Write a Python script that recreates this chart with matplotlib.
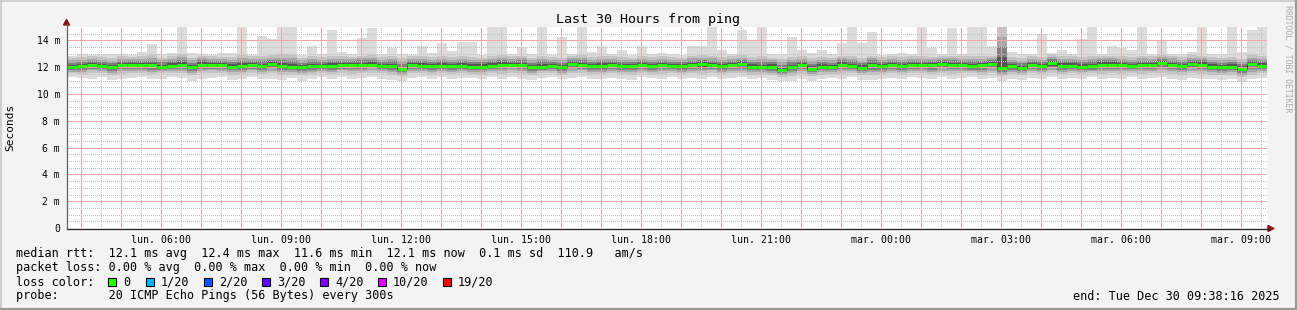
import numpy as np
import matplotlib
matplotlib.use("Agg")
import matplotlib.pyplot as plt
from matplotlib.patches import Polygon, Rectangle
from matplotlib.lines import Line2D

# ---------------- data ----------------
end_hour = 33 + 38 / 60 + 16 / 3600      # Tue 09:38:16 counted from Mon 00:00
span_hours = 30
step_hours = 0.25

median = [
    12.00, 12.10, 12.18, 12.12, 12.00, 12.17, 12.13, 12.13, 12.13, 12.03, 12.12, 12.20, 12.00, 12.20, 12.15, 12.13, 12.05, 12.12, 12.18, 12.08,
    12.25, 12.10, 12.05, 12.00, 12.08, 12.10, 12.12, 12.15, 12.15, 12.18, 12.20, 12.12, 12.08, 11.85, 12.18, 12.12, 12.12, 12.12, 12.12, 12.12,
    12.05, 12.05, 12.10, 12.18, 12.20, 12.18, 12.00, 12.05, 12.12, 12.00, 12.25, 12.15, 12.08, 12.12, 12.18, 12.12, 12.12, 12.15, 12.08, 12.18,
    12.12, 12.08, 12.15, 12.22, 12.15, 12.10, 12.15, 12.22, 12.05, 12.00, 12.05, 11.80, 12.00, 12.15, 11.90, 12.05, 12.02, 12.20, 12.10, 11.95,
    12.18, 12.10, 12.20, 12.10, 12.13, 12.13, 12.13, 12.25, 12.18, 12.18, 12.08, 12.13, 12.25, 11.95, 12.08, 11.95, 12.15, 12.08, 12.28, 12.12,
    12.12, 12.05, 12.08, 12.20, 12.20, 12.15, 12.10, 12.15, 12.20, 12.33, 12.15, 12.08, 12.25, 12.20, 12.05, 12.00, 12.05, 11.88, 12.25, 12.12,
]
ping_max = [
    12.85, 12.95, 12.90, 13.00, 12.95, 12.95, 12.90, 13.10, 13.75, 13.00, 13.05, 15.20, 13.05, 12.95, 12.90, 13.05, 13.05, 15.20, 12.90, 14.30,
    14.10, 15.20, 15.20, 12.90, 13.60, 12.95, 14.75, 13.10, 12.95, 14.20, 14.90, 13.00, 13.40, 12.95, 12.90, 13.60, 13.05, 13.80, 13.20, 13.90,
    13.90, 12.90, 15.20, 15.20, 13.00, 13.50, 13.00, 15.20, 12.90, 14.25, 13.00, 15.20, 13.10, 13.60, 12.95, 13.25, 12.90, 13.60, 13.00, 13.05,
    12.95, 12.90, 13.60, 13.60, 15.20, 13.25, 12.95, 14.75, 14.00, 15.20, 12.95, 13.00, 14.25, 13.25, 13.05, 13.25, 12.95, 13.80, 15.20, 13.80,
    14.60, 12.90, 13.00, 13.05, 12.95, 15.20, 13.40, 12.95, 14.90, 13.00, 15.20, 15.20, 13.60, 15.20, 13.10, 13.00, 12.95, 14.50, 13.05, 13.25,
    12.95, 14.10, 15.20, 12.95, 13.60, 13.40, 13.25, 15.20, 12.95, 14.00, 13.00, 13.00, 13.10, 15.20, 12.95, 13.00, 15.20, 13.10, 14.75, 15.20,
]
ping_min = [
    11.25, 11.20, 11.15, 11.30, 11.05, 11.10, 11.20, 11.30, 11.10, 11.15, 11.25, 11.20, 11.00, 11.15, 11.20, 11.25, 11.05, 11.15, 11.25, 11.10,
    11.15, 11.05, 11.20, 10.95, 11.10, 11.25, 11.15, 11.30, 11.10, 11.20, 11.25, 11.15, 11.05, 10.95, 11.20, 11.30, 11.15, 11.25, 11.10, 11.20,
    11.20, 11.10, 11.25, 11.15, 11.30, 11.10, 11.05, 11.20, 11.25, 11.10, 11.20, 11.30, 11.15, 11.10, 11.20, 11.15, 11.05, 11.25, 11.20, 11.10,
    11.25, 11.15, 11.20, 11.10, 11.30, 11.15, 11.20, 11.25, 11.10, 11.20, 11.05, 10.95, 11.00, 11.15, 11.00, 11.10, 11.20, 11.15, 11.25, 11.05,
    11.05, 11.15, 11.20, 11.10, 11.25, 11.20, 11.10, 11.25, 11.15, 11.20, 11.25, 11.10, 11.20, 11.00, 11.15, 11.05, 11.20, 11.15, 11.25, 11.10,
    11.20, 11.15, 11.25, 11.10, 11.20, 11.15, 11.25, 11.10, 11.20, 11.30, 11.15, 11.05, 11.20, 11.15, 11.10, 11.05, 11.10, 10.90, 11.10, 11.20,
]
ping_upper = [
    12.70, 12.75, 12.80, 12.75, 12.65, 12.80, 12.75, 12.85, 12.90, 12.70, 12.80, 12.95, 12.70, 12.85, 12.80, 12.75, 12.75, 12.90, 12.80, 12.85,
    12.90, 12.95, 12.90, 12.70, 12.80, 12.75, 12.85, 12.80, 12.75, 12.85, 12.90, 12.75, 12.80, 12.65, 12.80, 12.85, 12.75, 12.85, 12.75, 12.80,
    12.75, 12.70, 12.85, 12.90, 12.80, 12.85, 12.70, 12.85, 12.75, 12.70, 12.85, 12.90, 12.75, 12.80, 12.80, 12.75, 12.70, 12.80, 12.75, 12.80,
    12.75, 12.70, 12.85, 12.90, 12.85, 12.75, 12.80, 12.90, 12.75, 12.80, 12.70, 12.60, 12.75, 12.80, 12.65, 12.75, 12.70, 12.85, 12.80, 12.70,
    12.85, 12.75, 12.80, 12.75, 12.80, 12.85, 12.75, 12.85, 12.85, 12.80, 12.85, 12.85, 12.85, 15.20, 12.75, 12.65, 12.80, 12.75, 12.90, 12.80,
    12.80, 12.75, 12.80, 12.85, 12.85, 12.80, 12.75, 12.85, 12.80, 12.90, 12.85, 12.75, 12.90, 12.85, 12.75, 12.70, 12.75, 12.60, 12.90, 12.80,
]
ping_lower = [
    11.55, 11.50, 11.60, 11.55, 11.45, 11.50, 11.55, 11.60, 11.50, 11.55, 11.60, 11.55, 11.40, 11.55, 11.60, 11.55, 11.45, 11.50, 11.60, 11.50,
    11.55, 11.45, 11.50, 11.40, 11.50, 11.55, 11.50, 11.60, 11.50, 11.55, 11.60, 11.55, 11.45, 11.35, 11.55, 11.60, 11.50, 11.55, 11.50, 11.55,
    11.50, 11.45, 11.55, 11.50, 11.60, 11.50, 11.45, 11.55, 11.55, 11.45, 11.55, 11.60, 11.50, 11.50, 11.55, 11.50, 11.45, 11.55, 11.50, 11.50,
    11.55, 11.50, 11.55, 11.50, 11.60, 11.50, 11.55, 11.55, 11.45, 11.50, 11.40, 11.30, 11.35, 11.50, 11.35, 11.45, 11.50, 11.50, 11.55, 11.40,
    11.40, 11.50, 11.55, 11.50, 11.55, 11.55, 11.50, 11.55, 11.50, 11.55, 11.55, 11.45, 11.55, 11.35, 11.50, 11.40, 11.55, 11.50, 11.55, 11.50,
    11.55, 11.50, 11.55, 11.50, 11.55, 11.50, 11.55, 11.50, 11.55, 11.60, 11.50, 11.45, 11.55, 11.50, 11.45, 11.40, 11.45, 11.25, 11.45, 11.55,
]

x_tick_hours = [6, 9, 12, 15, 18, 21, 24, 27, 30, 33]
x_tick_labels = ["lun. 06:00", "lun. 09:00", "lun. 12:00", "lun. 15:00", "lun. 18:00",
                 "lun. 21:00", "mar. 00:00", "mar. 03:00", "mar. 06:00", "mar. 09:00"]
y_ticks = [0, 2, 4, 6, 8, 10, 12, 14]
y_tick_labels = ["0", "2 m", "4 m", "6 m", "8 m", "10 m", "12 m", "14 m"]

loss_labels = ["0", "1/20", "2/20", "3/20", "4/20", "10/20", "19/20"]
loss_colors = ["#26ff00", "#00b8ff", "#0059ff", "#5e00ff", "#7e00ff", "#dd00ff", "#ff0000"]

title = "Last 30 Hours from ping"
legend_lines = [
    "median rtt:  12.1 ms avg  12.4 ms max  11.6 ms min  12.1 ms now  0.1 ms sd  110.9   am/s",
    "packet loss: 0.00 % avg  0.00 % max  0.00 % min  0.00 % now",
    "loss color:",
    "probe:       20 ICMP Echo Pings (56 Bytes) every 300s",
]
end_text = "end: Tue Dec 30 09:38:16 2025"

# ---------------- figure ----------------
W, H = 1297, 310
MONO = "DejaVu Sans Mono"
fig = plt.figure(figsize=(W / 100, H / 100), dpi=100, facecolor="#f3f3f3")


def fx(x):
    return x / W


def fy(y):
    return 1 - y / H


ax = fig.add_axes([fx(67), fy(228), 1200 / W, 201 / H])
ax.set_facecolor("white")
start_hour = end_hour - span_hours
ax.set_xlim(start_hour, end_hour)
ax.set_ylim(0, 15)
for s in ax.spines.values():
    s.set_visible(False)

med = np.array(median)
n = len(med)
edges = start_hour + np.arange(n + 1) * step_hours
xs = np.repeat(edges, 2)[1:-1]


def st(v):
    return np.repeat(np.asarray(v, dtype=float), 2)


# smoke
ax.fill_between(xs, st(ping_min), st(ping_max), color="#dcdcdc", lw=0, zorder=1)
up = np.array(ping_upper)
lo = np.array(ping_lower)
for frac, col in [(1.0, "#c4c4c4"), (0.72, "#a6a6a6"), (0.48, "#808080"), (0.24, "#555555")]:
    ax.fill_between(xs, st(med - frac * (med - lo)), st(med + frac * (up - med)),
                    color=col, lw=0, zorder=1)

# grid (rrdtool style dotted)
red = "#f4a4a4"
gray = "#c0c0c0"
h = np.ceil(start_hour * 2) / 2
while h < end_hour:
    is_major = abs(h - round(h)) < 1e-9
    ax.axvline(h, color=red if is_major else gray, lw=0.72,
               dashes=(1, 1) if is_major else (1, 2), antialiased=False, zorder=2)
    h += 0.5
for v in np.arange(0.5, 15.0, 0.5):
    is_major = abs(v % 2) < 1e-9
    ax.axhline(v, color=red if is_major else gray, lw=0.72,
               dashes=(1, 1) if is_major else (1, 2), antialiased=False, zorder=2)

# median line
ax.plot(xs, st(med), color="#101010", lw=0.6, zorder=3)
ax.hlines(med, edges[:-1], edges[1:], color=loss_colors[0], lw=2.2, zorder=4)

# ticks
ax.set_xticks(x_tick_hours)
ax.set_xticklabels(x_tick_labels, fontfamily=MONO, fontsize=7.1)
ax.set_yticks(y_ticks)
ax.set_yticklabels(y_tick_labels, fontfamily=MONO, fontsize=7.0)
ax.tick_params(axis="x", length=0, pad=5)
ax.tick_params(axis="y", length=0, pad=5)

# axes lines + arrows
axis_col = "#202020"
arrow_col = "#8b1010"
fig.add_artist(Line2D([fx(67), fx(1268)], [fy(228.5), fy(228.5)], color=axis_col, lw=0.9))
fig.add_artist(Line2D([fx(66.5), fx(66.5)], [fy(228.5), fy(24)], color="#606060", lw=0.9))
fig.add_artist(Polygon([[fx(1268), fy(225.5)], [fx(1274), fy(228.5)], [fx(1268), fy(231.5)]],
                       closed=True, color=arrow_col, transform=fig.transFigure))
fig.add_artist(Polygon([[fx(63.5), fy(25)], [fx(69.5), fy(25)], [fx(66.5), fy(19.5)]],
                       closed=True, color=arrow_col, transform=fig.transFigure))

# texts
fig.text(fx(648), fy(19), title, fontfamily=MONO, fontsize=9.6, ha="center", va="center", color="black")
fig.text(fx(10), fy(127), "Seconds", fontfamily=MONO, fontsize=8.0, rotation=90,
         ha="center", va="center", color="black")
fig.text(fx(1288), fy(5), "RRDTOOL / TOBI OETIKER", fontfamily=MONO, fontsize=5.9, rotation=270,
         ha="center", va="top", color="#a8a8a8")

row_y = [254, 268, 282, 296]
for txt, yy in zip(legend_lines, row_y):
    fig.text(fx(16), fy(yy), txt, fontfamily=MONO, fontsize=8.5, ha="left", va="center", color="black")

box_x = [108, 146, 204, 262, 320, 378, 443]
for bx, lab, col in zip(box_x, loss_labels, loss_colors):
    fig.add_artist(Rectangle((fx(bx), fy(286)), 8 / W, 8 / H, transform=fig.transFigure,
                             facecolor=col, edgecolor="black", lw=0.8))
    fig.text(fx(bx + 15), fy(282), lab, fontfamily=MONO, fontsize=8.5, ha="left", va="center", color="black")

fig.text(fx(1280), fy(296), end_text, fontfamily=MONO, fontsize=8.5, ha="right", va="center", color="black")

# frame
fig.add_artist(Line2D([0, 1], [fy(0.8), fy(0.8)], color="#cfcfcf", lw=1.4))
fig.add_artist(Line2D([fx(0.8), fx(0.8)], [0, 1], color="#cfcfcf", lw=1.4))
fig.add_artist(Line2D([0, 1], [fy(308.8), fy(308.8)], color="#9a9a9a", lw=1.6))
fig.add_artist(Line2D([fx(1295.8), fx(1295.8)], [0, 1], color="#9a9a9a", lw=1.6))

fig.savefig("out.png", dpi=100, facecolor=fig.get_facecolor())
